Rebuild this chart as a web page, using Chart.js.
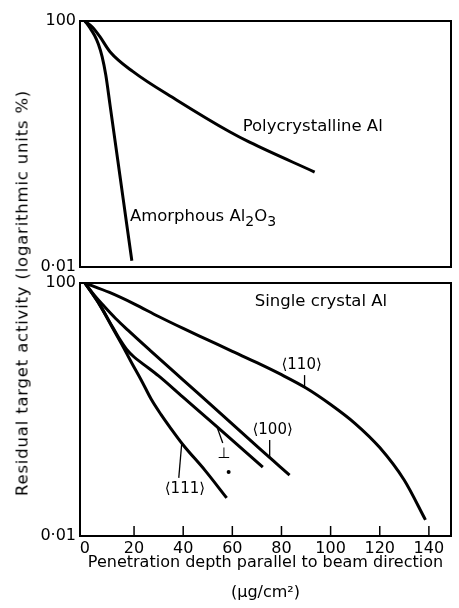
<!DOCTYPE html>
<html>
<head>
<meta charset="utf-8">
<script src="https://cdn.jsdelivr.net/npm/chart.js@4.4.1/dist/chart.umd.min.js"></script>
<style>
  body { margin: 0; background: #fff; }
  #wrap { position: relative; width: 459px; height: 608px; }
  #top { position: absolute; left: 0; top: 0; }
  #bottom { position: absolute; left: 0; top: 262px; }
  #ytitle {
    position: absolute; left: 22px; top: 293px;
    transform: translate(-50%, -50%) rotate(-90deg);
    white-space: nowrap; font: 16.5px 'DejaVu Sans'; letter-spacing: 0.8px; color: #000;
  }
</style>
</head>
<body>
<div id="wrap">
  <canvas id="top" width="459" height="282"></canvas>
  <canvas id="bottom" width="459" height="346"></canvas>
  <div id="ytitle">Residual target activity (logarithmic units %)</div>
</div>
<script>
const yTicks = [0.01, 100];
const xTicks = [0, 20, 40, 60, 80, 100, 120, 140];

// top panel
const polyDepth = [0, 3, 6.1, 10.2, 19.6, 37.3, 58.9, 67, 93.5];
const polyAct = [100, 80, 55.6, 31.7, 15, 5.2, 1.58, 1.07, 0.35];
const amorDepth = [0, 2, 4, 5.5, 7, 8.5, 10.2, 14.2, 17, 19.1];
const amorAct = [100, 77.6, 57.5, 41.7, 26.3, 13.2, 4.37, 0.316, 0.05, 0.0126];

// bottom panel, single crystal
const d110 = [0, 10, 20, 30, 40, 50, 60, 70, 80, 90, 100, 110, 120, 130, 138.6];
const a110 = [100, 70.8, 46.8, 29.5, 19.1, 12.6, 8.3, 5.5, 3.55, 2.19, 1.2, 0.6, 0.25, 0.076, 0.018];
const d100 = [0, 4, 8.1, 12.5, 17.5, 26.4, 39.8, 53.7, 71.1, 83.3];
const a100 = [100, 63, 41.7, 27.5, 18, 8.7, 2.97, 0.98, 0.24, 0.092];
const dPerp = [0, 6.1, 11, 14, 17, 20, 24, 30, 39.8, 53.7, 72.4];
const aPerp = [100, 44.7, 20.9, 13.2, 8.9, 6.76, 5.13, 3.39, 1.58, 0.537, 0.123];
const d111 = [0, 6.1, 11, 15, 19, 23, 27, 31, 35, 40, 48.8, 57.7];
const a111 = [100, 44.7, 20.4, 10.7, 5.5, 2.88, 1.45, 0.83, 0.5, 0.275, 0.11, 0.04];

Chart.defaults.font.family = 'DejaVu Sans';
Chart.defaults.color = '#000';

const pts = (xs, ys) => xs.map((x, i) => ({ x: x, y: ys[i] }));
const curve = (xs, ys) => ({
    data: pts(xs, ys),
    borderColor: '#000',
    borderWidth: 3,
    pointRadius: 0,
    cubicInterpolationMode: 'monotone',
    fill: false
});

const yAxis = {
    type: 'logarithmic',
    min: 0.01,
    max: 100,
    afterBuildTicks: s => { s.ticks = yTicks.map(v => ({ value: v })); },
    afterFit: s => { s.width = 80; },
    grid: { display: false, drawTicks: false },
    border: { display: false },
    ticks: {
        padding: 4,
        autoSkip: false,
        font: { size: 16 },
        color: '#000',
        callback: v => String(v).replace('.', '·')
    }
};

// box round the plot, plus inward ticks when asked
function framePlugin(withTicks) {
    return {
        id: 'frame',
        afterDatasetsDraw(chart) {
            const { ctx, chartArea: a, scales } = chart;
            ctx.save();
            ctx.strokeStyle = '#000';
            ctx.lineWidth = 2;
            ctx.strokeRect(a.left, a.top, a.right - a.left, a.bottom - a.top);
            if (withTicks) {
                ctx.lineWidth = 1.5;
                xTicks.slice(1).forEach(v => {
                    const px = scales.x.getPixelForValue(v);
                    ctx.beginPath();
                    ctx.moveTo(px, a.bottom);
                    ctx.lineTo(px, a.bottom - 10);
                    ctx.stroke();
                });
            }
            ctx.restore();
        }
    };
}

// labels and leader lines, placed in data units
function notesPlugin(items) {
    return {
        id: 'notes',
        afterDraw(chart) {
            const { ctx, scales: { x, y } } = chart;
            ctx.save();
            ctx.fillStyle = '#000';
            ctx.strokeStyle = '#000';
            ctx.textBaseline = 'middle';
            items.forEach(it => {
                if (it.line) {
                    ctx.lineWidth = 1.3;
                    ctx.beginPath();
                    ctx.moveTo(x.getPixelForValue(it.line[0][0]), y.getPixelForValue(it.line[0][1]));
                    ctx.lineTo(x.getPixelForValue(it.line[1][0]), y.getPixelForValue(it.line[1][1]));
                    ctx.stroke();
                } else if (it.dot) {
                    ctx.beginPath();
                    ctx.arc(x.getPixelForValue(it.dot[0]), y.getPixelForValue(it.dot[1]), 2, 0, Math.PI * 2);
                    ctx.fill();
                } else {
                    let px = x.getPixelForValue(it.x);
                    const py = y.getPixelForValue(it.y);
                    const parts = it.parts || [[it.text, 0]];
                    const size = it.size || 16.5;
                    let total = 0;
                    parts.forEach(p => {
                        ctx.font = (p[1] ? size * 0.85 : size) + 'px "DejaVu Sans"';
                        total += ctx.measureText(p[0]).width;
                    });
                    if (it.align === 'center') px -= total / 2;
                    ctx.textAlign = 'left';
                    parts.forEach(p => {
                        ctx.font = (p[1] ? size * 0.85 : size) + 'px "DejaVu Sans"';
                        ctx.fillText(p[0], px, py + (p[1] ? 5 : 0));
                        px += ctx.measureText(p[0]).width;
                    });
                }
            });
            ctx.restore();
        }
    };
}

const common = {
    responsive: false,
    animation: false,
    plugins: { legend: { display: false }, tooltip: { enabled: false } }
};

new Chart(document.getElementById('top'), {
    type: 'line',
    data: {
        datasets: [curve(polyDepth, polyAct), curve(amorDepth, amorAct)]
    },
    options: {
        ...common,
        layout: { padding: { top: 21, right: 8, bottom: 15, left: 0 } },
        scales: {
            x: { type: 'linear', min: -2, max: 149, display: false },
            y: yAxis
        }
    },
    plugins: [framePlugin(false), notesPlugin([
        { text: 'Polycrystalline Al', x: 64.2, y: 1.89 },
        { parts: [['Amorphous Al', 0], ['2', 1], ['O', 0], ['3', 1]], x: 18.3, y: 0.065 }
    ])]
});

new Chart(document.getElementById('bottom'), {
    type: 'line',
    data: {
        datasets: [curve(d110, a110), curve(d100, a100), curve(dPerp, aPerp), curve(d111, a111)]
    },
    options: {
        ...common,
        layout: { padding: { top: 21, right: 8, bottom: 0, left: 0 } },
        scales: {
            x: {
                type: 'linear',
                min: -2,
                max: 149,
                afterBuildTicks: s => { s.ticks = xTicks.map(v => ({ value: v })); },
                afterFit: s => { s.height = 72; },
                grid: { display: false, drawTicks: false },
                border: { display: false },
                ticks: { padding: 3, autoSkip: false, maxRotation: 0, font: { size: 16 }, color: '#000' },
                title: {
                    display: true,
                    text: ['Penetration depth parallel to beam direction', '(μg/cm²)'],
                    font: { size: 16, lineHeight: 1.875 },
                    color: '#000',
                    padding: { top: 0, bottom: 0 }
                }
            },
            y: yAxis
        }
    },
    plugins: [framePlugin(true), notesPlugin([
        { text: 'Single crystal Al', x: 69.1, y: 50 },
        { text: '⟨110⟩', x: 88.2, y: 5.06, align: 'center', size: 15 },
        { line: [[89.4, 3.5], [89.4, 2.2]] },
        { text: '⟨100⟩', x: 76.4, y: 0.475, align: 'center', size: 15 },
        { line: [[75.2, 0.33], [75.2, 0.175]] },
        { text: '⊥', x: 56.5, y: 0.2, align: 'center', size: 15 },
        { line: [[53.7, 0.537], [56.1, 0.295]] },
        { dot: [58.5, 0.103] },
        { text: '⟨111⟩', x: 40.7, y: 0.055, align: 'center', size: 15 },
        { line: [[39.4, 0.29], [38.2, 0.083]] }
    ])]
});
</script>
</body>
</html>
